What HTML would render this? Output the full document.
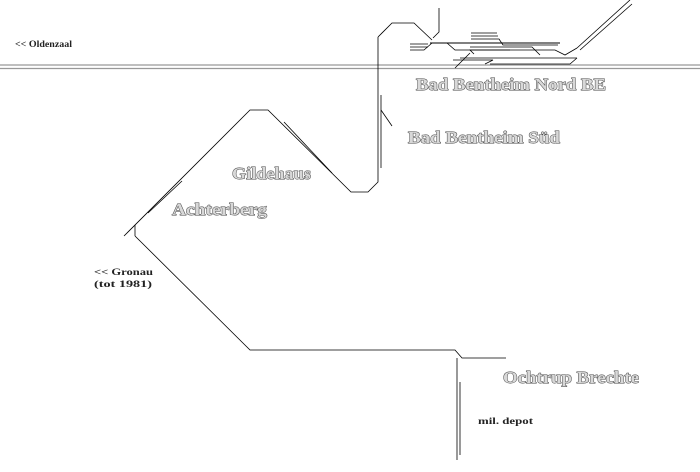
<!DOCTYPE html>
<html><head><meta charset="utf-8"><style>
html,body{margin:0;padding:0;background:#fff;}
svg{display:block}
.t{font-family:"Liberation Serif",serif;fill:#d8d8d8;stroke:#444;stroke-width:0.9;font-weight:bold;paint-order:stroke}
.s{font-family:"Liberation Serif",serif;fill:#222;font-weight:bold;font-size:9px}
</style></head><body>
<svg width="700" height="472" viewBox="0 0 700 472" xmlns="http://www.w3.org/2000/svg">
<g stroke="#999" stroke-width="1.2">
<line x1="0" y1="65" x2="700" y2="65"/>
<line x1="0" y1="68.5" x2="700" y2="68.5"/>
</g>
<g fill="none" stroke="#000" stroke-width="0.8">
<polyline points="378,37 378,182 368,192 351,192 268,110 250,110 124,236"/>
<line x1="135" y1="225" x2="135" y2="236"/>
<polyline points="135,236 250,350 455,350 462,358 506,358"/>
<line x1="457" y1="358" x2="457" y2="460"/>
<line x1="460" y1="382" x2="460" y2="455"/>
<line x1="381" y1="95" x2="381" y2="168"/>
<line x1="381" y1="110" x2="392" y2="126"/>
<line x1="284" y1="122" x2="332" y2="173"/>
<line x1="148" y1="213" x2="182" y2="181"/>
<polyline points="378,37 392,23 414,23 432,40"/>
<polyline points="439,8 439,32 433,38"/>
<line x1="430" y1="43" x2="560" y2="43" stroke-width="1.1"/>
<line x1="471" y1="33" x2="497" y2="33"/>
<line x1="471" y1="36" x2="498" y2="36"/>
<polyline points="471,39 499,39 503,45 558,45"/>
<line x1="410" y1="44" x2="428" y2="44"/>
<line x1="410" y1="47" x2="428" y2="47"/>
<polyline points="410,50 424,50 432,43"/>
<polyline points="447,43 455,50 510,50"/>
<polyline points="470,47 532,47 540,55"/>
<polyline points="474,54 470,50 555,50 565,55 577,48"/>
<polyline points="460,58 577,58"/>
<polyline points="453,60 493,60 485,64"/>
<polyline points="490,64 570,64 577,58"/>
<line x1="455" y1="68" x2="470" y2="53"/>
<line x1="577" y1="48" x2="630" y2="0"/>
<line x1="580" y1="50" x2="632" y2="4"/>
</g>
<text class="t" x="416" y="90" font-size="17" textLength="190" lengthAdjust="spacingAndGlyphs">Bad Bentheim Nord BE</text>
<text class="t" x="408" y="143" font-size="17" textLength="152" lengthAdjust="spacingAndGlyphs">Bad Bentheim Süd</text>
<text class="t" x="232" y="179" font-size="17" textLength="79" lengthAdjust="spacingAndGlyphs">Gildehaus</text>
<text class="t" x="172" y="215" font-size="17" textLength="95" lengthAdjust="spacingAndGlyphs">Achterberg</text>
<text class="t" x="503" y="383" font-size="17" textLength="136" lengthAdjust="spacingAndGlyphs">Ochtrup Brechte</text>
<text class="s" x="15" y="47" textLength="57" lengthAdjust="spacingAndGlyphs">&lt;&lt; Oldenzaal</text>
<text class="s" x="94" y="275" textLength="59" lengthAdjust="spacingAndGlyphs">&lt;&lt; Gronau</text>
<text class="s" x="94" y="287" textLength="58" lengthAdjust="spacingAndGlyphs">(tot 1981)</text>
<text class="s" x="478" y="424" textLength="55" lengthAdjust="spacingAndGlyphs">mil. depot</text>
</svg>
</body></html>
